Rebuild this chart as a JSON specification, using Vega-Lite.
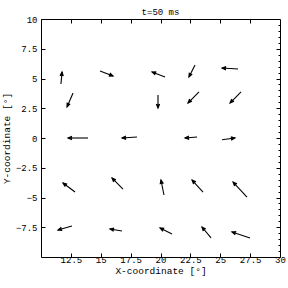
{
  "$schema": "https://vega.github.io/schema/vega-lite/v6.json",
  "autosize": "none",
  "padding": {"left": 41, "top": 19, "right": 8, "bottom": 31},
  "width": 239,
  "height": 238,
  "background": "white",
  "title": {"text": "t=50 ms", "font": "Liberation Mono", "fontSize": 9, "fontWeight": "normal", "offset": -2, "color": "black"},
  "config": {
    "view": {"stroke": "black", "strokeWidth": 1},
    "axis": {
      "labelFont": "Liberation Mono", "labelFontSize": 9, "labelColor": "black",
      "titleFont": "Liberation Mono", "titleFontSize": 9.5, "titleFontWeight": "normal", "titleColor": "black",
      "tickColor": "black", "domainColor": "black", "grid": false, "labelFlush": false, "labelOverlap": false, "format": ".1~f"
    }
  },
  "data": {"values": [
    {"x": 11.67, "y": 4.54, "x2": 11.76, "y2": 5.55},
    {"x": 14.94, "y": 5.63, "x2": 16.03, "y2": 5.21},
    {"x": 20.38, "y": 5.13, "x2": 19.29, "y2": 5.55},
    {"x": 22.89, "y": 6.13, "x2": 22.38, "y2": 5.13},
    {"x": 26.49, "y": 5.80, "x2": 25.15, "y2": 5.88},
    {"x": 12.68, "y": 3.78, "x2": 12.18, "y2": 2.61},
    {"x": 19.79, "y": 3.61, "x2": 19.79, "y2": 2.52},
    {"x": 23.22, "y": 3.87, "x2": 22.30, "y2": 2.94},
    {"x": 26.74, "y": 3.87, "x2": 25.82, "y2": 2.94},
    {"x": 13.93, "y": 0.0, "x2": 12.26, "y2": 0.0},
    {"x": 18.03, "y": 0.08, "x2": 16.78, "y2": 0.0},
    {"x": 23.06, "y": 0.08, "x2": 22.05, "y2": 0.0},
    {"x": 25.15, "y": -0.15, "x2": 26.23, "y2": 0.0},
    {"x": 12.85, "y": -4.54, "x2": 11.84, "y2": -3.78},
    {"x": 16.86, "y": -4.29, "x2": 15.94, "y2": -3.36},
    {"x": 20.29, "y": -4.79, "x2": 20.04, "y2": -3.53},
    {"x": 23.56, "y": -4.54, "x2": 22.64, "y2": -3.53},
    {"x": 27.24, "y": -4.96, "x2": 26.07, "y2": -3.70},
    {"x": 12.59, "y": -7.39, "x2": 11.42, "y2": -7.73},
    {"x": 16.78, "y": -7.82, "x2": 15.77, "y2": -7.65},
    {"x": 20.96, "y": -8.07, "x2": 19.96, "y2": -7.56},
    {"x": 24.23, "y": -8.40, "x2": 23.47, "y2": -7.48},
    {"x": 27.49, "y": -8.40, "x2": 25.98, "y2": -7.90}
  ]},
  "resolve": {"axis": {"x": "independent", "y": "independent"}},
  "layer": [
    {
      "mark": {"type": "rule", "color": "black", "strokeWidth": 1.1},
      "encoding": {
        "x": {"field": "x", "type": "quantitative", "scale": {"domain": [10, 30], "nice": false, "zero": false},
          "axis": {"orient": "bottom", "title": "X-coordinate [°]", "values": [12.5, 15, 17.5, 20, 22.5, 25, 27.5, 30], "tickSize": -4, "labelPadding": 2, "titlePadding": 1, "domain": false}},
        "y": {"field": "y", "type": "quantitative", "scale": {"domain": [-10, 10], "nice": false, "zero": false},
          "axis": {"orient": "left", "title": "Y-coordinate [°]", "values": [-7.5, -5, -2.5, 0, 2.5, 5, 7.5, 10], "tickSize": -4, "labelPadding": 8, "titlePadding": 4, "domain": false}},
        "x2": {"field": "x2"},
        "y2": {"field": "y2"}
      }
    },
    {
      "transform": [{"calculate": "atan2(datum.x2 - datum.x, datum.y2 - datum.y) * 180 / PI", "as": "angle"}],
      "mark": {"type": "point", "shape": "M -0.42 1 L 0 0 L 0.42 1 M -0.22 1 L 0 0 L 0.22 1", "filled": false, "stroke": "black", "strokeWidth": 1.1, "size": 64, "opacity": 1},
      "encoding": {
        "x": {"field": "x2", "type": "quantitative", "scale": {"domain": [10, 30], "nice": false, "zero": false},
          "axis": {"orient": "top", "title": null, "labels": false, "values": [12.5, 15, 17.5, 20, 22.5, 25, 27.5], "tickSize": -4, "domain": false}},
        "y": {"field": "y2", "type": "quantitative", "scale": {"domain": [-10, 10], "nice": false, "zero": false},
          "axis": {"orient": "right", "title": null, "labels": false, "values": [-9.5, -9, -8.5, -8, -7.5, -7, -6.5, -6, -5.5, -5, -4.5, -4, -3.5, -3, -2.5, -2, -1.5, -1, -0.5, 0, 0.5, 1, 1.5, 2, 2.5, 3, 3.5, 4, 4.5, 5, 5.5, 6, 6.5, 7, 7.5, 8, 8.5, 9, 9.5],
            "tickSize": {"condition": {"test": "datum.value % 2.5 === 0", "value": -4}, "value": -2}, "domain": false}},
        "angle": {"field": "angle", "type": "quantitative", "scale": null}
      }
    }
  ]
}
